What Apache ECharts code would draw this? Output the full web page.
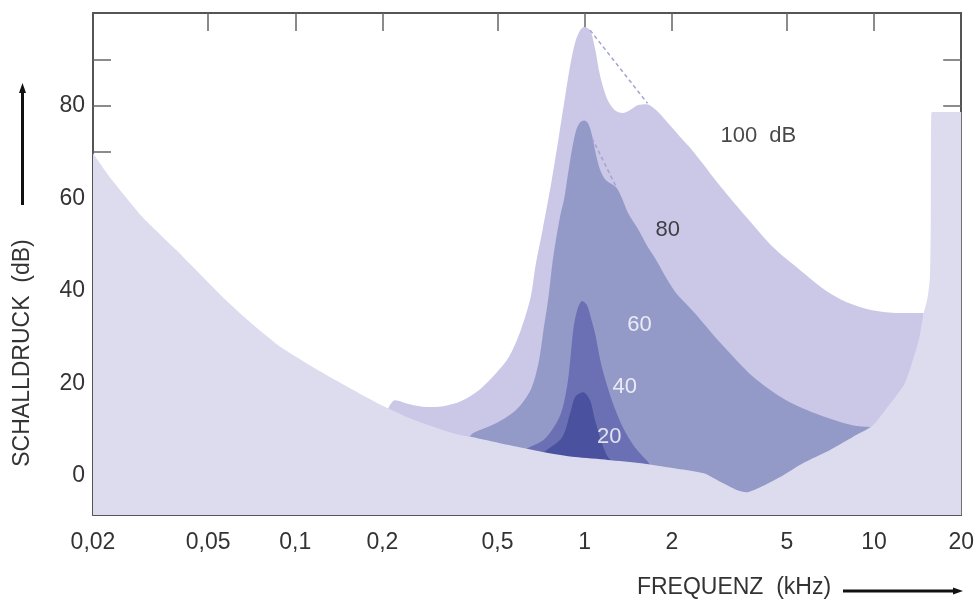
<!DOCTYPE html>
<html><head><meta charset="utf-8">
<script src="https://cdn.jsdelivr.net/npm/echarts@6/dist/echarts.min.js"></script>
<style>html,body{margin:0;padding:0;background:#fff}#c{width:977px;height:605px}</style>
</head><body><div id="c"></div>
<script>
// Tick values / labels (kHz)
const xTickValues = [0.02, 0.05, 0.1, 0.2, 0.5, 1, 2, 5, 10, 20];
const xTickLabels = ['0,02', '0,05', '0,1', '0,2', '0,5', '1', '2', '5', '10', '20'];
const xInnerTicks = [0.05, 0.1, 0.2, 0.5, 1, 2, 5, 10];
const yTickValues = [0, 10, 20, 30, 40, 50, 60, 70, 80, 90];
const yLabelValues = [0, 20, 40, 60, 80];

// Threshold in quiet [kHz, dB]
const thresholdQuiet = [[0.02,69.7],[0.0229,64.5],[0.0297,55.9],[0.0388,48.8],[0.0575,38.0],[0.0705,33.0],[0.0893,27.8],[0.1196,22.9],[0.1514,19.3],[0.1918,15.8],[0.2488,12.5],[0.3252,9.9],[0.3748,8.8],[0.4119,8.4],[0.547,6.7],[0.715,5.2],[0.927,4.1],[1.202,3.5],[1.572,2.8],[2.038,1.7],[2.582,0.6],[2.952,-1.3],[3.348,-3.0],[3.622,-3.5],[4.044,-2.4],[4.734,-0.2],[5.676,2.8],[7.022,5.6],[8.414,8.4],[9.852,10.8],[10.92,14.2],[12.78,20.1],[14.27,29.4],[14.84,35.2],[15.3,38.5],[15.6,43.0],[15.7,55.0],[15.72,72.0],[15.76,78.0],[15.85,78.6],[20,78.6]];

// Masking thresholds for 1 kHz narrow-band noise [kHz, dB]
const mask100 = [[0.2092,14.0],[0.2108,15.0],[0.2210,16.4],[0.2488,15.5],[0.2843,14.9],[0.3252,15.1],[0.3748,16.2],[0.4318,18.6],[0.4937,22.2],[0.547,25.7],[0.6012,31.5],[0.6504,38.6],[0.6765,45.5],[0.715,53.1],[0.7674,63.5],[0.8174,74.0],[0.857,82.2],[0.8913,88.7],[0.9274,93.7],[0.9646,96.3],[0.995,97.0],[1.0434,96.3],[1.0854,92.4],[1.129,86.6],[1.193,81.6],[1.2708,79.0],[1.3534,78.4],[1.4304,79.0],[1.523,80.1],[1.6348,80.3],[1.7686,79.0],[1.9288,76.4],[2.154,73.0],[2.386,69.9],[2.952,62.5],[3.622,55.9],[4.48,49.4],[5.544,44.5],[6.802,40.1],[8.22,37.3],[9.852,35.8],[12.19,35.2],[14.84,35.2]];
const mask80 = [[0.399,8.4],[0.4119,9.3],[0.4937,11.4],[0.578,14.2],[0.6504,18.6],[0.6926,24.4],[0.7204,31.5],[0.7494,38.6],[0.7735,46.0],[0.792,50.3],[0.8238,56.3],[0.8502,60.0],[0.8774,65.6],[0.9054,70.8],[0.9344,74.7],[0.9646,76.4],[0.9952,76.8],[1.027,76.2],[1.06,73.6],[1.0854,70.4],[1.12,66.9],[1.156,64.8],[1.193,63.7],[1.241,63.0],[1.2908,62.2],[1.3534,59.6],[1.4076,57.0],[1.523,53.5],[1.648,49.6],[1.741,47.3],[2.038,40.1],[2.386,35.4],[2.952,28.7],[3.828,21.4],[4.964,16.4],[6.488,13.2],[8.414,11.0],[9.852,10.6]];
const mask40 = [[0.60,5.0],[0.6252,5.8],[0.7319,8.2],[0.8238,13.2],[0.8704,19.6],[0.8913,25.0],[0.9126,31.5],[0.9418,35.8],[0.9796,37.8],[1.019,36.9],[1.0516,34.1],[1.0854,30.9],[1.147,23.5],[1.241,16.4],[1.3534,10.6],[1.4874,6.3],[1.648,3.2],[1.70,2.0]];
const mask20 = [[0.70,4.5],[0.7319,5.4],[0.8368,8.4],[0.8913,13.6],[0.9274,17.1],[0.9873,18.1],[1.0434,16.4],[1.0854,12.1],[1.147,7.1],[1.2024,4.1],[1.2508,3.0]];

// Dashed envelope lines
const dash100 = [[1.0434,96.3],[1.648,80.5]];
const dash80 = [[1.06,73.0],[1.2908,62.2]];

// Curve labels
const labelTexts = ['100  dB', '80', '60', '40', '20'];
const labelFreqs = [3.982, 1.938, 1.547, 1.375, 1.2166];
const labelDbs = [73.4, 53.1, 32.6, 19.2, 8.4];

const FONT = 'Liberation Sans, Arial, Helvetica, sans-serif';
const AXIS_COLOR = '#555';
const TEXT_COLOR = '#333';
const labelColors = ['#1a1a1a', '#1a1a1a', '#fff', '#fff', '#fff'];

// The frequency axis is logarithmic: a value axis over log10(kHz).
const lg = v => Math.log10(v);
const toLog = pts => pts.map(p => [lg(p[0]), p[1]]);

function xLabel(v) {
  let best = 0, bd = Infinity;
  for (let i = 0; i < xTickValues.length; i++) {
    const d = Math.abs(v - lg(xTickValues[i]));
    if (d < bd) { bd = d; best = i; }
  }
  return xTickLabels[best];
}

function areaSeries(name, data, color, smooth) {
  return {
    type: 'line', name, data: toLog(data), xAxisIndex: 0, yAxisIndex: 0,
    smooth: smooth, symbol: 'none', silent: true,
    lineStyle: { width: 0 },
    areaStyle: { color, opacity: 1, origin: 'start' }
  };
}
function dashSeries(data) {
  return {
    type: 'line', data: toLog(data), xAxisIndex: 0, yAxisIndex: 0, symbol: 'none', silent: true,
    lineStyle: { color: '#a6a3d3', width: 1.5, type: [4, 3] }
  };
}

const xBase = {
  type: 'value', min: lg(xTickValues[0]), max: lg(xTickValues[xTickValues.length - 1]),
  axisLine: { show: true, onZero: false, lineStyle: { color: AXIS_COLOR, width: 2 } },
  axisTick: { show: true, inside: true, length: 18, customValues: xInnerTicks.map(lg), lineStyle: { color: '#666', width: 1.5 } },
  splitLine: { show: false }
};
const yBase = {
  type: 'value', min: -8.4, max: 100,
  axisLine: { show: true, onZero: false, lineStyle: { color: AXIS_COLOR, width: 2 } },
  axisTick: { show: true, inside: true, length: 18, customValues: yTickValues, lineStyle: { color: '#666', width: 1.5 } },
  splitLine: { show: false }
};

const chart = echarts.init(document.getElementById('c'), null, { renderer: 'canvas' });
chart.setOption({
  animation: false,
  backgroundColor: '#fff',
  grid: { left: 93, right: 7, top: 13, bottom: 90, containLabel: false },
  xAxis: [
    Object.assign({}, xBase, { position: 'bottom',
      axisLabel: { show: true, customValues: xTickValues.map(lg), formatter: xLabel, margin: 16,
        fontFamily: FONT, fontSize: 23, color: TEXT_COLOR } }),
    Object.assign({}, xBase, { position: 'top', axisLabel: { show: false } })
  ],
  yAxis: [
    Object.assign({}, yBase, { position: 'left',
      axisLabel: { show: true, customValues: yLabelValues, margin: 8,
        fontFamily: FONT, fontSize: 23, color: TEXT_COLOR } }),
    Object.assign({}, yBase, { position: 'right', axisLabel: { show: false } })
  ],
  series: [
    areaSeries('100 dB', mask100, '#cbc7e7', 0.3),
    areaSeries('80 dB', mask80, '#949ac8', 0.3),
    areaSeries('40 dB', mask40, '#6a70b3', 0.3),
    areaSeries('20 dB', mask20, '#4a519e', 0.3),
    areaSeries('Ruhehörschwelle', thresholdQuiet, '#dddcee', 0.2),
    dashSeries(dash100),
    dashSeries(dash80),
    {
      type: 'scatter', xAxisIndex: 0, yAxisIndex: 0, symbolSize: 0, silent: true,
      itemStyle: { color: 'rgba(0,0,0,0)' },
      data: labelTexts.map((t, i) => ({
        name: t, value: [lg(labelFreqs[i]), labelDbs[i]],
        label: { color: labelColors[i] }
      })),
      label: { show: true, position: 'inside', formatter: p => p.name,
        fontFamily: FONT, fontSize: 22 },
      z: 10
    }
  ],
  graphic: [
    { type: 'text', x: 23, y: 353, rotation: Math.PI / 2,
      style: { text: 'SCHALLDRUCK  (dB)', font: '23px ' + FONT, fill: TEXT_COLOR, align: 'center', verticalAlign: 'middle' } },
    { type: 'line', shape: { x1: 22.5, y1: 205, x2: 22.5, y2: 90 }, style: { stroke: '#111', lineWidth: 3 } },
    { type: 'polygon', shape: { points: [[22.5, 83], [19, 93], [26, 93]] }, style: { fill: '#111' } },
    { type: 'text', x: 734, y: 588,
      style: { text: 'FREQUENZ  (kHz)', font: '23px ' + FONT, fill: TEXT_COLOR, align: 'center', verticalAlign: 'middle' } },
    { type: 'line', shape: { x1: 843, y1: 591, x2: 955, y2: 591 }, style: { stroke: '#111', lineWidth: 3 } },
    { type: 'polygon', shape: { points: [[963, 591], [953, 587.5], [953, 594.5]] }, style: { fill: '#111' } }
  ]
});
</script>
</body></html>
